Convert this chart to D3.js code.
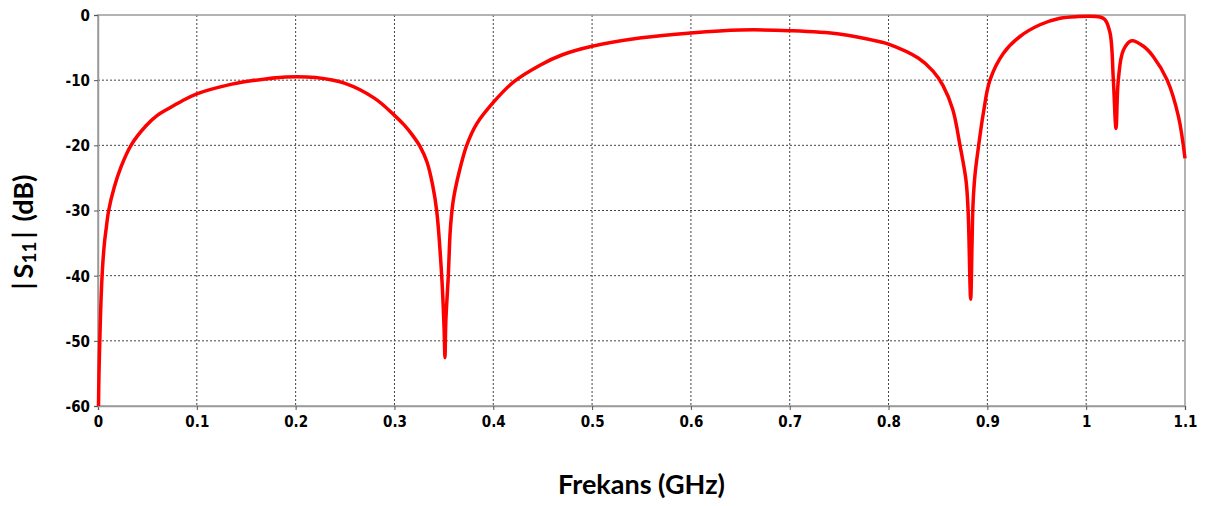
<!DOCTYPE html>
<html>
<head>
<meta charset="utf-8">
<script src="https://cdn.jsdelivr.net/npm/d3@7"></script>
<style>
  body { margin: 0; background: #fff; }
  .tick text { font-family: "DejaVu Sans Condensed", "DejaVu Sans", sans-serif; font-weight: bold; font-size: 15px; fill: #000; }
  .title { font-family: Lato, "Open Sans", sans-serif; font-weight: bold; font-size: 27px; fill: #000; }
</style>
</head>
<body>
<svg></svg>
<script>
// Frequenz in GHz
const freq = [
  0.0005, 0.001, 0.002, 0.003, 0.0045, 0.0065, 0.0081, 0.0108, 0.0165, 0.0233,
  0.0334, 0.0486, 0.06, 0.072, 0.085, 0.1, 0.13, 0.155, 0.19, 0.22,
  0.25, 0.28, 0.3, 0.31, 0.318, 0.326, 0.333, 0.3385, 0.3427, 0.3478,
  0.3502, 0.3511, 0.352, 0.3545, 0.3565, 0.359, 0.3613, 0.3663, 0.3731, 0.3832,
  0.4007, 0.4203, 0.4473, 0.47, 0.5, 0.55, 0.6, 0.65, 0.7, 0.75,
  0.7913, 0.8, 0.83, 0.845, 0.855, 0.865, 0.8723, 0.8784, 0.8805, 0.8831,
  0.8845, 0.8855, 0.8875, 0.8912, 0.896, 0.9026, 0.9161, 0.933, 0.9532, 0.9735,
  0.99, 1.014, 1.019, 1.0242, 1.0275, 1.0302, 1.0325, 1.0376, 1.046, 1.058,
  1.068, 1.082, 1.0934, 1.1
];
// |S11| in dB
const s11 = [
  -60, -55, -49, -44, -39, -35, -33, -30, -26.4, -23.3,
  -20, -17.0, -15.4, -14.3, -13.2, -12.1, -10.8, -10.1, -9.5, -9.6,
  -10.5, -12.8, -15.4, -16.9, -18.4, -20.2, -22.6, -26, -30, -40,
  -48, -52.6, -47, -40, -33, -29, -26.9, -23.6, -20, -16.7,
  -13.3, -10.3, -7.7, -6.1, -4.8, -3.5, -2.75, -2.3, -2.4, -2.9,
  -4.1, -4.46, -6.6, -8.6, -10.8, -14.5, -20, -25.4, -30, -43.6,
  -35, -29, -24.5, -20, -15, -10, -5.9, -3.3, -1.5, -0.5,
  -0.25, -0.3, -0.7, -2.8, -10, -17.4, -10, -5.4, -3.95, -4.8,
  -6.4, -10, -15.6, -22
];
const xTicks = [0, 0.1, 0.2, 0.3, 0.4, 0.5, 0.6, 0.7, 0.8, 0.9, 1, 1.1];
const yTicks = [0, -10, -20, -30, -40, -50, -60];

const width = 1207;
const height = 506;
const margin = { top: 15, right: 22, bottom: 100, left: 98 };
const plotW = width - margin.left - margin.right;
const plotH = height - margin.top - margin.bottom;

const data = freq.map((f, i) => ({ f: f, v: s11[i] }));

let svg = d3.select("svg").attr("width", width).attr("height", height);

let scaleX = d3.scaleLinear().domain([0, 1.1]).range([0, plotW]);
let scaleY = d3.scaleLinear().domain([-60, 0]).range([plotH, 0]);

let g = svg.append("g")
  .attr("transform", "translate(" + margin.left + "," + margin.top + ")");

// Gitterlinien
g.append("g")
  .selectAll("line")
  .data(xTicks.slice(1, -1))
  .enter()
  .append("line")
  .attr("x1", (d) => scaleX(d))
  .attr("x2", (d) => scaleX(d))
  .attr("y1", 0)
  .attr("y2", plotH)
  .attr("stroke", "#444")
  .attr("stroke-width", 1)
  .attr("stroke-dasharray", "2,2");

g.append("g")
  .selectAll("line")
  .data(yTicks.slice(1, -1))
  .enter()
  .append("line")
  .attr("x1", 0)
  .attr("x2", plotW)
  .attr("y1", (d) => scaleY(d))
  .attr("y2", (d) => scaleY(d))
  .attr("stroke", "#444")
  .attr("stroke-width", 1)
  .attr("stroke-dasharray", "2,2");

// Rahmen
g.append("rect")
  .attr("x", 0)
  .attr("y", 0)
  .attr("width", plotW)
  .attr("height", plotH)
  .attr("fill", "none")
  .attr("stroke", "#9a9a9a")
  .attr("stroke-width", 1.5);

// Achsen
let xAxis = g.append("g")
  .attr("transform", "translate(0," + plotH + ")")
  .call(d3.axisBottom(scaleX).tickValues(xTicks).tickFormat((d) => String(d)).tickSize(4).tickPadding(6));

let yAxis = g.append("g")
  .call(d3.axisLeft(scaleY).tickValues(yTicks).tickFormat((d) => String(d)).tickSize(4).tickPadding(4));

[xAxis, yAxis].forEach((a) => {
  a.select(".domain").attr("stroke", "#9a9a9a").attr("stroke-width", 1.5);
  a.selectAll(".tick line").attr("stroke", "#555");
  a.selectAll(".tick text").attr("font-family", null).attr("font-size", null);
});
yAxis.selectAll(".tick text").attr("dy", "0.36em");

// Kurve
g.append("path")
  .datum(data)
  .attr("fill", "none")
  .attr("stroke", "#ff0000")
  .attr("stroke-width", 3.5)
  .attr("stroke-linejoin", "round")
  .attr("d", d3.line()
    .x((d) => scaleX(d.f))
    .y((d) => scaleY(d.v))
    .curve(d3.curveCatmullRom.alpha(0.5)));

// Achsenbeschriftungen
svg.append("text")
  .attr("class", "title")
  .attr("text-anchor", "middle")
  .attr("x", margin.left + plotW / 2)
  .attr("y", 494)
  .text("Frekans (GHz)");

let yTitle = svg.append("text")
  .attr("class", "title")
  .attr("text-anchor", "middle")
  .attr("transform", "translate(33,232) rotate(-90)");
yTitle.append("tspan").text("|");
yTitle.append("tspan").attr("dx", "4").text("S");
yTitle.append("tspan").attr("font-size", "19px").attr("dy", "3").text("11");
yTitle.append("tspan").attr("dx", "3").attr("dy", "-3").text("|");
yTitle.append("tspan").attr("dx", "10").text("(dB)");
</script>
</body>
</html>
